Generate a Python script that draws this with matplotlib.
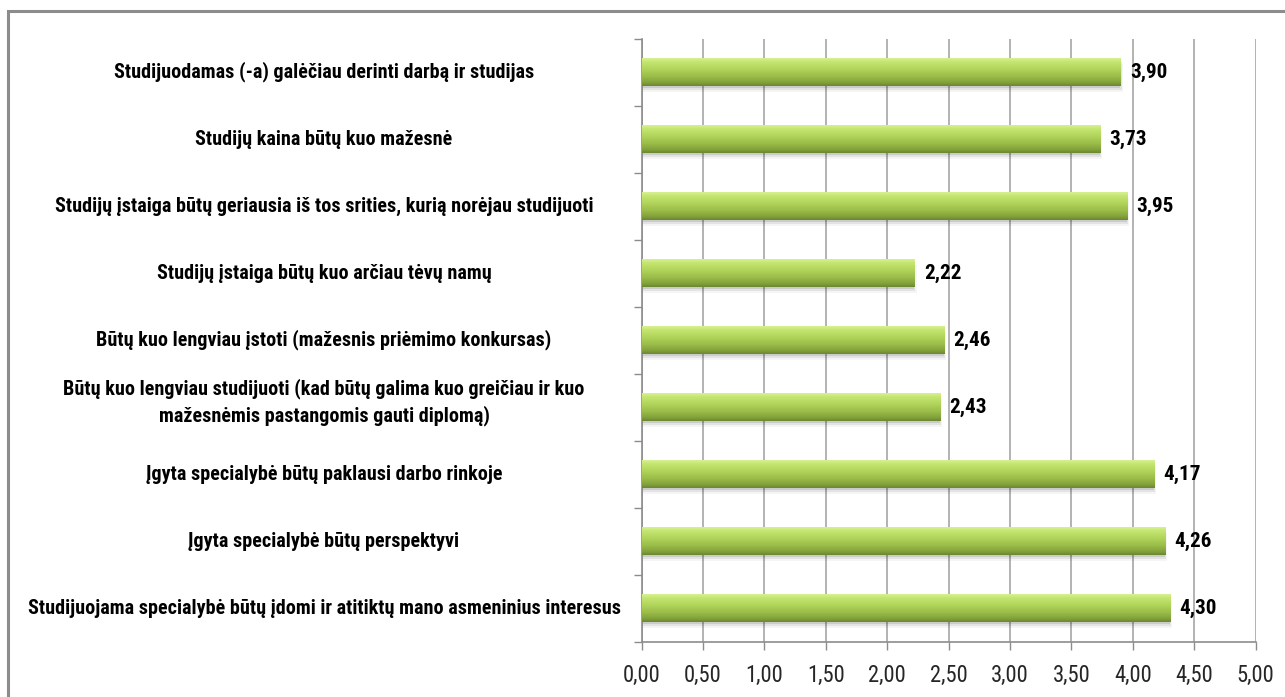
import numpy as np
import matplotlib
matplotlib.use("Agg")
import matplotlib.pyplot as plt
from matplotlib.patches import Rectangle
from matplotlib.colors import LinearSegmentedColormap
from matplotlib.transforms import blended_transform_factory
from matplotlib import font_manager

categories = [
    "Studijuodamas (-a) galėčiau derinti darbą ir studijas",
    "Studijų kaina būtų kuo mažesnė",
    "Studijų įstaiga būtų geriausia iš tos srities, kurią norėjau studijuoti",
    "Studijų įstaiga būtų kuo arčiau tėvų namų",
    "Būtų kuo lengviau įstoti (mažesnis priėmimo konkursas)",
    "Būtų kuo lengviau studijuoti (kad būtų galima kuo greičiau ir kuo\nmažesnėmis pastangomis gauti diplomą)",
    "Įgyta specialybė būtų paklausi darbo rinkoje",
    "Įgyta specialybė būtų perspektyvi",
    "Studijuojama specialybė būtų įdomi ir atitiktų mano asmeninius interesus",
]
values = [3.90, 3.73, 3.95, 2.22, 2.46, 2.43, 4.17, 4.26, 4.30]
xticks = [0.0, 0.5, 1.0, 1.5, 2.0, 2.5, 3.0, 3.5, 4.0, 4.5, 5.0]

# pick a narrow font if available
fl = font_manager.fontManager.ttflist
names = {f.name for f in fl}
fam, stretch = None, "normal"
for cand in ["Liberation Sans Narrow", "Roboto Condensed", "Open Sans Condensed"]:
    if cand in names:
        fam = cand
        break
if fam is None:
    cond = [f for f in fl if f.name == "DejaVu Sans" and str(f.stretch) in ("condensed", "semi-condensed")]
    if cond:
        fam, stretch = "DejaVu Sans", "condensed"
    elif "Roboto" in names:
        fam = "Roboto"
    else:
        fam = "DejaVu Sans"
plt.rcParams["font.family"] = [fam, "DejaVu Sans"]
plt.rcParams["font.stretch"] = stretch

W, H = 1285, 697
fig = plt.figure(figsize=(W / 100, H / 100), dpi=100)
fig.patch.set_facecolor("white")

fig.add_artist(Rectangle((8 / W, -0.05), 1.1, (H - 11) / H + 0.05, transform=fig.transFigure,
                         fill=False, edgecolor="#8c8c8c", linewidth=2.2))

x0, x1 = 641.5, 1255.5
ytop, ybot = 38.5, 641.7
ax = fig.add_axes([x0 / W, (H - ybot) / H, (x1 - x0) / W, (ybot - ytop) / H])

n = len(categories)
ypos = np.arange(n)
bh = 0.41

cmap = LinearSegmentedColormap.from_list(
    "g", [(0.0, "#d6f092"), (0.12, "#c6e672"), (0.35, "#b4d75e"),
          (0.65, "#9cbe4a"), (0.88, "#83a23b"), (1.0, "#6a8830")])
grad = np.linspace(0, 1, 64).reshape(-1, 1)

renderer = fig.canvas.get_renderer()
longest = max((c for c in categories if "\n" not in c), key=len)
tmp = fig.text(0, 0, longest, fontsize=10, fontweight="bold")
w10 = tmp.get_window_extent(renderer).width
tmp.remove()
lab_fs = min(14.5, 10 * 606 / w10)
val_fs = lab_fs * 1.05
tick_fs = lab_fs * 1.12

for y, v in zip(ypos, values):
    for k, a in enumerate([0.10, 0.07, 0.04]):
        off = 0.03 + 0.03 * k
        ax.add_patch(Rectangle((0, y - bh / 2 + off), v + 0.01 * k, bh, facecolor="black",
                               alpha=a, edgecolor="none", zorder=2))
    bars = ax.barh(y, v, height=bh, color="none", edgecolor="none", zorder=3)
    im = ax.imshow(grad, cmap=cmap, aspect="auto",
                   extent=[0, v, y + bh / 2, y - bh / 2], zorder=3, interpolation="bilinear")
    im.set_clip_path(bars[0])
    ax.text(v + 0.08, y, f"{v:.2f}".replace(".", ","), va="center", ha="left",
            fontsize=val_fs, fontweight="bold", color="black", zorder=4)

ax.set_xlim(0, 5)
ax.set_ylim(n - 0.5, -0.5)
ax.set_xticks(xticks)
ax.set_xticklabels([f"{t:.2f}".replace(".", ",") for t in xticks], fontsize=tick_fs, color="#262626")
ax.set_yticks(ypos)
ax.set_yticklabels([""] * n)
ax.tick_params(axis="y", length=0)
trans = blended_transform_factory(ax.transAxes, ax.transData)
xc = ((20 + 628) / 2 - x0) / (x1 - x0)
for y, c in zip(ypos, categories):
    dy = -0.08 if "\n" in c else 0.0
    ax.text(xc, y + dy, c, transform=trans, ha="center", va="center", multialignment="center",
            fontsize=lab_fs, fontweight="bold", color="black", linespacing=1.4)
ax.set_yticks(np.arange(n + 1) - 0.5, minor=True)
ax.tick_params(axis="y", which="minor", length=6, color="#8c8c8c", width=1)
ax.tick_params(axis="x", length=6, color="#8c8c8c", width=1, pad=10)

ax.grid(axis="x", color="#a6a6a6", linewidth=1.2, zorder=0)
ax.set_axisbelow(True)
for s in ["top", "right"]:
    ax.spines[s].set_visible(False)
for s in ["left", "bottom"]:
    ax.spines[s].set_color("#8c8c8c")
    ax.spines[s].set_linewidth(1.2)

fig.savefig("out.png", dpi=100)
